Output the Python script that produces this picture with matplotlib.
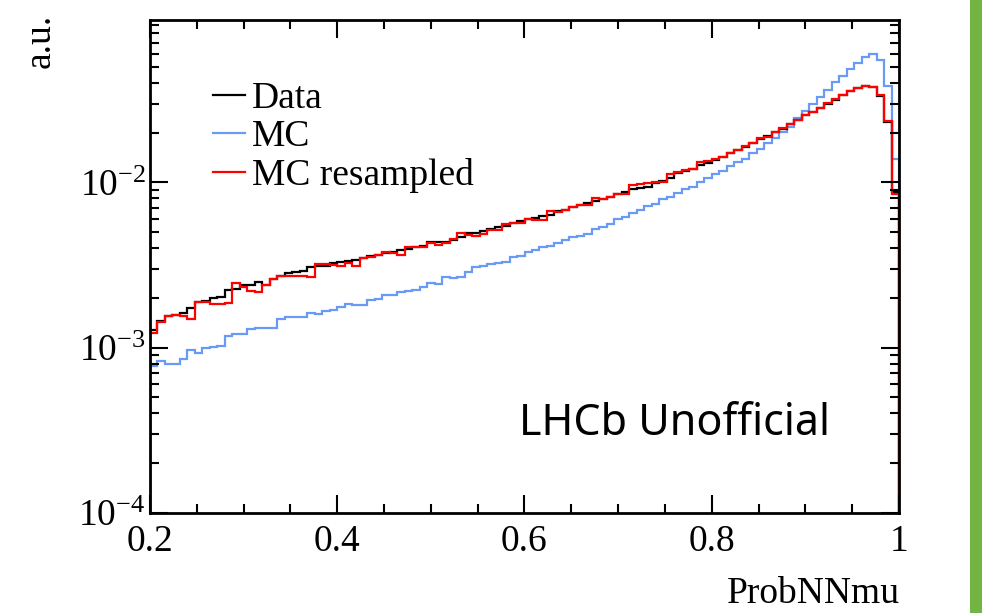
import numpy as np
import matplotlib
matplotlib.use("Agg")
import matplotlib.pyplot as plt
from matplotlib.lines import Line2D
from matplotlib.patches import Rectangle

# ---------------- data ----------------
x_min, x_max, n_bins = 0.2, 1.0, 100

data_vals = [
    1.28e-3, 1.45e-3, 1.56e-3, 1.58e-3, 1.63e-3, 1.73e-3, 1.88e-3, 1.92e-3, 1.99e-3, 2.04e-3,
    2.24e-3, 2.26e-3, 2.40e-3, 2.40e-3, 2.48e-3, 2.40e-3, 2.61e-3, 2.70e-3, 2.82e-3, 2.86e-3,
    2.93e-3, 3.07e-3, 3.13e-3, 3.13e-3, 3.24e-3, 3.30e-3, 3.35e-3, 3.38e-3, 3.50e-3, 3.58e-3,
    3.64e-3, 3.72e-3, 3.80e-3, 3.90e-3, 3.98e-3, 4.09e-3, 4.10e-3, 4.33e-3, 4.38e-3, 4.38e-3,
    4.50e-3, 4.70e-3, 4.92e-3, 4.97e-3, 5.05e-3, 5.20e-3, 5.40e-3, 5.45e-3, 5.65e-3, 5.80e-3,
    6.00e-3, 6.10e-3, 6.30e-3, 6.35e-3, 6.70e-3, 6.85e-3, 7.05e-3, 7.30e-3, 7.55e-3, 7.70e-3,
    7.90e-3, 8.20e-3, 8.55e-3, 8.75e-3, 9.10e-3, 9.30e-3, 9.40e-3, 9.98e-3, 1.02e-2, 1.07e-2,
    1.14e-2, 1.17e-2, 1.20e-2, 1.28e-2, 1.31e-2, 1.37e-2, 1.43e-2, 1.50e-2, 1.57e-2, 1.64e-2,
    1.73e-2, 1.82e-2, 1.90e-2, 2.01e-2, 2.11e-2, 2.24e-2, 2.37e-2, 2.54e-2, 2.67e-2, 2.80e-2,
    2.98e-2, 3.15e-2, 3.36e-2, 3.55e-2, 3.70e-2, 3.82e-2, 3.78e-2, 3.35e-2, 2.33e-2, 8.8e-3,
]

mc_vals = [
    7.8e-4, 8.3e-4, 8.0e-4, 8.0e-4, 8.5e-4, 9.7e-4, 9.3e-4, 9.9e-4, 1.01e-3, 1.03e-3,
    1.18e-3, 1.21e-3, 1.21e-3, 1.29e-3, 1.32e-3, 1.32e-3, 1.32e-3, 1.49e-3, 1.53e-3, 1.53e-3,
    1.53e-3, 1.63e-3, 1.60e-3, 1.66e-3, 1.68e-3, 1.76e-3, 1.83e-3, 1.82e-3, 1.80e-3, 1.95e-3,
    1.98e-3, 2.08e-3, 2.08e-3, 2.17e-3, 2.20e-3, 2.23e-3, 2.34e-3, 2.45e-3, 2.42e-3, 2.69e-3,
    2.65e-3, 2.68e-3, 2.88e-3, 3.07e-3, 3.13e-3, 3.20e-3, 3.24e-3, 3.30e-3, 3.52e-3, 3.58e-3,
    3.80e-3, 3.90e-3, 4.08e-3, 4.10e-3, 4.27e-3, 4.47e-3, 4.70e-3, 4.75e-3, 4.85e-3, 5.20e-3,
    5.40e-3, 5.60e-3, 5.98e-3, 6.20e-3, 6.50e-3, 6.80e-3, 7.20e-3, 7.45e-3, 7.90e-3, 8.20e-3,
    8.60e-3, 9.10e-3, 9.40e-3, 1.00e-2, 1.07e-2, 1.13e-2, 1.17e-2, 1.25e-2, 1.32e-2, 1.39e-2,
    1.50e-2, 1.60e-2, 1.72e-2, 1.85e-2, 2.03e-2, 2.17e-2, 2.44e-2, 2.72e-2, 3.00e-2, 3.27e-2,
    3.63e-2, 4.02e-2, 4.43e-2, 4.84e-2, 5.31e-2, 5.77e-2, 6.00e-2, 5.50e-2, 3.84e-2, 1.38e-2,
]

mc_resampled_vals = [
    1.23e-3, 1.44e-3, 1.56e-3, 1.58e-3, 1.56e-3, 1.50e-3, 1.88e-3, 1.88e-3, 1.85e-3, 1.83e-3,
    1.87e-3, 2.45e-3, 2.34e-3, 2.20e-3, 2.18e-3, 2.40e-3, 2.61e-3, 2.73e-3, 2.73e-3, 2.70e-3,
    2.70e-3, 2.67e-3, 3.20e-3, 3.20e-3, 3.15e-3, 3.13e-3, 3.24e-3, 3.10e-3, 3.48e-3, 3.56e-3,
    3.64e-3, 3.77e-3, 3.72e-3, 3.64e-3, 4.09e-3, 4.09e-3, 4.09e-3, 4.29e-3, 4.20e-3, 4.29e-3,
    4.53e-3, 4.97e-3, 4.80e-3, 4.75e-3, 4.87e-3, 5.17e-3, 5.17e-3, 5.59e-3, 5.65e-3, 5.70e-3,
    5.98e-3, 5.90e-3, 5.90e-3, 6.70e-3, 6.65e-3, 6.85e-3, 7.05e-3, 7.31e-3, 7.31e-3, 8.00e-3,
    7.90e-3, 8.20e-3, 8.50e-3, 8.55e-3, 9.70e-3, 9.80e-3, 9.90e-3, 1.00e-2, 1.00e-2, 1.13e-2,
    1.15e-2, 1.18e-2, 1.20e-2, 1.32e-2, 1.35e-2, 1.39e-2, 1.43e-2, 1.51e-2, 1.58e-2, 1.66e-2,
    1.74e-2, 1.85e-2, 1.89e-2, 2.03e-2, 2.12e-2, 2.26e-2, 2.39e-2, 2.56e-2, 2.68e-2, 2.81e-2,
    3.01e-2, 3.18e-2, 3.38e-2, 3.57e-2, 3.71e-2, 3.84e-2, 3.80e-2, 3.38e-2, 2.36e-2, 8.5e-3,
]

series_labels = ["Data", "MC", "MC resampled"]
x_tick_vals = [0.2, 0.4, 0.6, 0.8, 1.0]
x_tick_labels = ["0.2", "0.4", "0.6", "0.8", "1"]

# ---------------- style ----------------
serif = "Liberation Serif"
plt.rcParams["font.family"] = [serif, "DejaVu Serif"]
plt.rcParams["mathtext.fontset"] = "custom"
plt.rcParams["mathtext.rm"] = serif
plt.rcParams["mathtext.it"] = serif + ":italic"
plt.rcParams["mathtext.bf"] = serif + ":bold"

FS = 27
col_data = "#000000"
col_mc = "#6a9bf4"
col_res = "#ff0000"

fig = plt.figure(figsize=(9.82, 6.13), dpi=100)
ax = fig.add_axes([150 / 982, 1 - 513 / 613, 749 / 982, 493 / 613])

edges = np.linspace(x_min, x_max, n_bins + 1)
lw = 1.6
ax.stairs(mc_vals, edges, baseline=1e-6, color=col_mc, lw=lw)
ax.stairs(data_vals, edges, baseline=1e-6, color=col_data, lw=lw)
ax.stairs(mc_resampled_vals, edges, baseline=1e-6, color=col_res, lw=lw)

ax.set_yscale("log")
ax.set_xlim(x_min, x_max)
ax.set_ylim(1e-4, 0.096)

ax.set_xticks(x_tick_vals, x_tick_labels)
ax.set_xticks(np.arange(0.25, 1.0, 0.05), minor=True)

ax.tick_params(which="both", direction="in", top=True, right=True,
               labelsize=FS, width=1.5)
ax.tick_params(which="major", length=13)
ax.tick_params(which="minor", length=6.5)
ax.tick_params(axis="x", which="major", pad=8)
ax.tick_params(axis="y", which="major", pad=3)
ax.yaxis.set_minor_formatter(matplotlib.ticker.NullFormatter())
for sp in ax.spines.values():
    sp.set_linewidth(2.0)

handles = [Line2D([], [], color=c, lw=lw) for c in (col_data, col_mc, col_res)]
ax.legend(handles, series_labels, loc="upper left", bbox_to_anchor=(0.084, 0.876),
          frameon=False, fontsize=FS, handlelength=0.85, handletextpad=0.2,
          labelspacing=0.1, borderpad=0, borderaxespad=0)

ax.text(0.908, 0.158, "LHCb Unofficial", transform=ax.transAxes, ha="right",
        va="baseline", fontsize=31, family=["Noto Sans", "DejaVu Sans"])

fig.text(900 / 982, 1 - 603 / 613, "ProbNNmu", ha="right", va="baseline", fontsize=FS)
fig.text(40 / 982, 1 - 14 / 613, "a.u.", ha="center", va="top", rotation=90, fontsize=FS)

fig.patches.append(Rectangle((970 / 982, 0), 12 / 982, 1, transform=fig.transFigure,
                             facecolor="#72b543", edgecolor="none"))

fig.savefig("out.png", dpi=100)
